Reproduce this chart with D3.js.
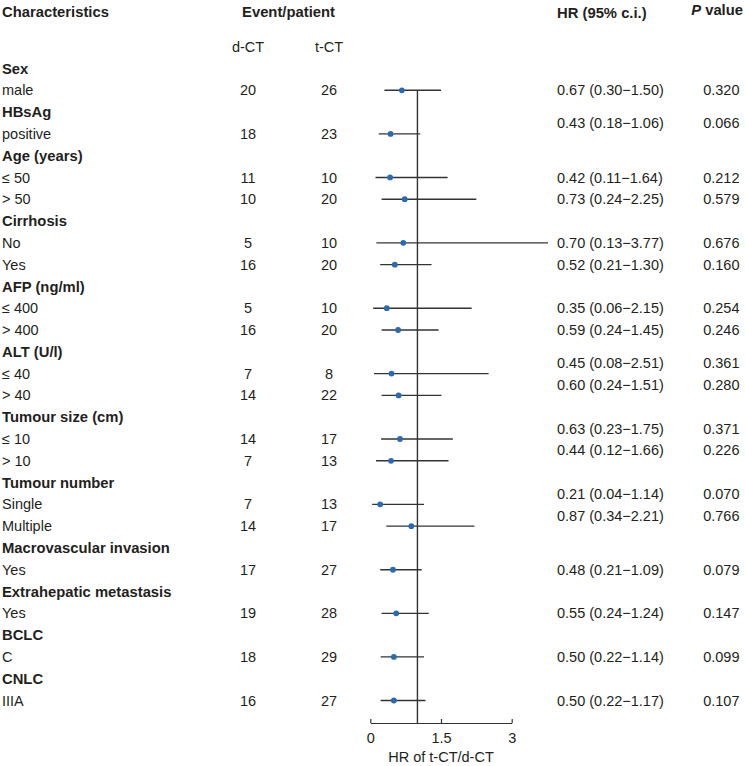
<!DOCTYPE html>
<html>
<head>
<meta charset="utf-8">
<script src="https://cdn.jsdelivr.net/npm/d3@7"></script>
<style>
  html, body { margin: 0; padding: 0; background: #fff; }
  svg { display: block; }
  text { font-family: "Liberation Sans", Arial, Helvetica, sans-serif; fill: #231f20; }
</style>
</head>
<body>
<svg id="chart" width="745" height="766"></svg>
<script>
// ---- Data ----
const rowLabels = ["Sex","male","HBsAg","positive","Age (years)","≤ 50","> 50",
  "Cirrhosis","No","Yes","AFP (ng/ml)","≤ 400","> 400","ALT (U/l)","≤ 40","> 40",
  "Tumour size (cm)","≤ 10","> 10","Tumour number","Single","Multiple",
  "Macrovascular invasion","Yes","Extrahepatic metastasis","Yes","BCLC","C","CNLC","IIIA"];
const rowIsGroup = [1,0,1,0,1,0,0,1,0,0,1,0,0,1,0,0,1,0,0,1,0,0,1,0,1,0,1,0,1,0];
const dCT   = [null,20,null,18,null,11,10,null,5,16,null,5,16,null,7,14,null,14,7,null,7,14,null,17,null,19,null,18,null,16];
const tCT   = [null,26,null,23,null,10,20,null,10,20,null,10,20,null,8,22,null,17,13,null,13,17,null,27,null,28,null,29,null,27];
const hrEst = [null,0.67,null,0.43,null,0.42,0.73,null,0.70,0.52,null,0.35,0.59,null,0.45,0.60,null,0.63,0.44,null,0.21,0.87,null,0.48,null,0.55,null,0.50,null,0.50];
const hrLow = [null,0.30,null,0.18,null,0.11,0.24,null,0.13,0.21,null,0.06,0.24,null,0.08,0.24,null,0.23,0.12,null,0.04,0.34,null,0.21,null,0.24,null,0.22,null,0.22];
const hrHigh= [null,1.50,null,1.06,null,1.64,2.25,null,3.77,1.30,null,2.15,1.45,null,2.51,1.51,null,1.75,1.66,null,1.14,2.21,null,1.09,null,1.24,null,1.14,null,1.17];
const pValues = [null,"0.320",null,"0.066",null,"0.212","0.579",null,"0.676","0.160",null,"0.254","0.246",null,"0.361","0.280",null,"0.371","0.226",null,"0.070","0.766",null,"0.079",null,"0.147",null,"0.099",null,"0.107"];
const axisTicks = [0, 1.5, 3];
const axisTitle = "HR of t-CT/d-CT";
const colHeaders = { chars: "Characteristics", events: "Event/patient", hr: "HR (95% c.i.)", sub1: "d-CT", sub2: "t-CT" };

// rows whose HR / P text is printed half a line higher in the original layout
const raisedText = new Set([3, 14, 15, 17, 18, 20, 21]);

// ---- Layout ----
const svg = d3.select("#chart");
const FS = 14.5, FSB = 14.8;
const y = d3.scaleLinear().domain([0, rowLabels.length - 1]).range([68.5, 700.5]);
const x = d3.scaleLinear().domain([0, 3]).range([370.3, 511.7]);
const axisY = 723;
const colD = 248, colT = 329, colHR = 557, colP = 739.5;
const lineColor = "#333333", dotColor = "#2a6ab0";

// Header
const hdr = svg.append("g").attr("font-size", FSB).attr("font-weight", "bold");
hdr.append("text").attr("x", 2).attr("y", 12).attr("dy", "0.35em").text(colHeaders.chars);
hdr.append("text").attr("x", (colD + colT) / 2).attr("y", 12).attr("dy", "0.35em").attr("text-anchor", "middle").text(colHeaders.events);
hdr.append("text").attr("x", colHR).attr("y", 13).attr("dy", "0.35em").text(colHeaders.hr);
const pv = hdr.append("text").attr("x", 743).attr("y", 10).attr("dy", "0.35em").attr("text-anchor", "end");
pv.append("tspan").attr("font-style", "italic").text("P");
pv.append("tspan").text(" value");

const sub = svg.append("g").attr("font-size", FS);
sub.append("text").attr("x", colD).attr("y", 47).attr("dy", "0.35em").attr("text-anchor", "middle").text(colHeaders.sub1);
sub.append("text").attr("x", colT).attr("y", 47).attr("dy", "0.35em").attr("text-anchor", "middle").text(colHeaders.sub2);

// Rows
const idx = d3.range(rowLabels.length);
const rows = svg.append("g").attr("font-size", FS);
rows.selectAll("text.lab").data(idx).join("text")
  .attr("class", "lab")
  .attr("x", 2).attr("y", i => y(i)).attr("dy", "0.35em")
  .attr("font-weight", i => rowIsGroup[i] ? "bold" : "normal")
  .attr("font-size", i => rowIsGroup[i] ? FSB : FS)
  .text(i => rowLabels[i]);

const items = idx.filter(i => !rowIsGroup[i]);
rows.selectAll("text.d").data(items).join("text")
  .attr("class", "d").attr("x", colD).attr("y", i => y(i)).attr("dy", "0.35em")
  .attr("text-anchor", "middle").text(i => dCT[i]);
rows.selectAll("text.t").data(items).join("text")
  .attr("class", "t").attr("x", colT).attr("y", i => y(i)).attr("dy", "0.35em")
  .attr("text-anchor", "middle").text(i => tCT[i]);

const textY = i => raisedText.has(i) ? y(i) - 10.5 : y(i);
const f2 = d3.format(".2f");
rows.selectAll("text.hr").data(items).join("text")
  .attr("class", "hr").attr("x", colHR).attr("y", textY).attr("dy", "0.35em")
  .text(i => `${f2(hrEst[i])} (${f2(hrLow[i])}\u2212${f2(hrHigh[i])})`);
rows.selectAll("text.p").data(items).join("text")
  .attr("class", "p").attr("x", colP).attr("y", textY).attr("dy", "0.35em")
  .attr("text-anchor", "end").text(i => pValues[i]);

// Reference line at HR = 1
svg.append("line")
  .attr("x1", x(1)).attr("x2", x(1))
  .attr("y1", y(items[0])).attr("y2", axisY)
  .attr("stroke", lineColor).attr("stroke-width", 1.4);

// CIs and points
const plot = svg.append("g");
plot.selectAll("line.ci").data(items).join("line")
  .attr("class", "ci")
  .attr("x1", i => x(hrLow[i])).attr("x2", i => x(hrHigh[i]))
  .attr("y1", i => y(i)).attr("y2", i => y(i))
  .attr("stroke", lineColor).attr("stroke-width", 1.4);
plot.selectAll("circle").data(items).join("circle")
  .attr("cx", i => x(hrEst[i])).attr("cy", i => y(i)).attr("r", 2.9)
  .attr("fill", dotColor);

// Axis
const axis = d3.axisBottom(x).tickValues(axisTicks).tickSizeInner(-4).tickSizeOuter(0).tickPadding(10)
  .tickFormat(d3.format("~g"));
const ag = svg.append("g").attr("transform", `translate(0,${axisY})`).call(axis);
ag.select(".domain").attr("stroke", lineColor).attr("stroke-width", 1.2);
ag.selectAll(".tick line").attr("stroke", lineColor).attr("stroke-width", 1.2);
ag.selectAll(".tick text").attr("font-size", FS).attr("font-family", null).attr("fill", "#231f20");

svg.append("text").attr("x", x(1.5)).attr("y", 757).attr("dy", "0.35em")
  .attr("text-anchor", "middle").attr("font-size", FS).text(axisTitle);
</script>
</body>
</html>
